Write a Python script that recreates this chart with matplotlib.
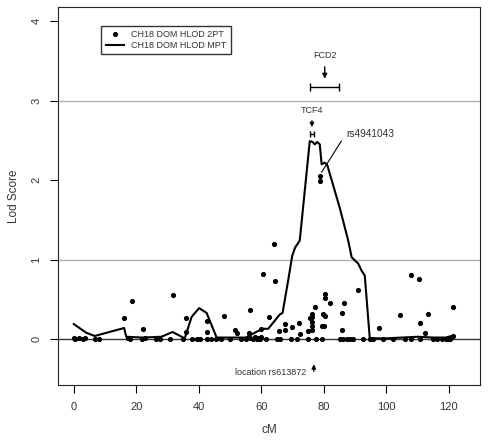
import numpy as np
from matplotlib import pyplot as plt

plt.rcParams["font.family"] = ["Liberation Sans", "DejaVu Sans"]

# multipoint HLOD curve
mpt_cm = [0, 4, 6.7, 16.1, 16.8, 22, 28, 31.6, 35.5, 37.7, 40.1, 42.5, 45.7, 50, 55,
          60.3, 62.2, 65.9, 66.8, 68.6, 69.9, 70.8, 72.3, 75.5, 76.4, 77.1, 77.9,
          78.7, 79.3, 80.3, 81.1, 85.1, 87.8, 88.9, 91.0, 92.1, 93.1, 94.7, 100,
          105, 110, 115, 119, 120.9]
mpt_lod = [0.19, 0.08, 0.04, 0.14, 0.03, 0.02, 0.03, 0.09, 0.01, 0.28, 0.39, 0.33,
           0.02, 0.02, 0.02, 0.13, 0.13, 0.31, 0.33, 0.74, 1.05, 1.15, 1.24, 2.49,
           2.48, 2.45, 2.48, 2.45, 2.2, 2.22, 2.19, 1.65, 1.24, 1.03, 0.95, 0.86,
           0.8, 0.01, 0.01, 0.02, 0.03, 0.02, 0.02, 0.04]

# two-point HLOD, markers above zero
pt_cm = [16.1, 18.5, 22.3, 31.6, 35.8, 35.8, 42.5, 42.5, 48.1, 51.5, 52.1, 56.4,
         56.2, 59.9, 60.4, 62.5, 64.1, 64.3, 65.7, 67.6, 67.6, 69.9, 71.9, 72.5,
         75.0, 75.5, 76.2, 76.3, 76.3, 76.2, 76.3, 77.2, 78.7, 78.7, 79.6, 80.3,
         79.5, 80.1, 80.5, 80.5, 82.1, 85.7, 86.6, 85.8, 91.0, 97.8, 104.3, 108.0,
         110.5, 110.9, 113.2, 112.5, 121.2, 121.2]
pt_lod = [0.26, 0.48, 0.13, 0.56, 0.27, 0.09, 0.23, 0.09, 0.29, 0.11, 0.08, 0.37,
          0.08, 0.13, 0.82, 0.28, 1.2, 0.73, 0.1, 0.19, 0.11, 0.15, 0.2, 0.06,
          0.1, 0.27, 0.31, 0.28, 0.22, 0.17, 0.12, 0.41, 2.05, 1.99, 0.31, 0.29,
          0.17, 0.17, 0.57, 0.52, 0.45, 0.33, 0.46, 0.12, 0.62, 0.14, 0.3, 0.81,
          0.76, 0.2, 0.31, 0.08, 0.41, 0.04]
# two-point markers sitting on zero
zero_cm = [0, 0.3, 1.7, 2.8, 3.5, 6.7, 8.1, 17.4, 18.1, 21.7, 22.7, 26.2, 27.5,
           30.7, 35, 37.7, 39.3, 40.3, 42.5, 44, 45.5, 47, 50, 53.5, 55, 56.5,
           57.5, 58, 58.5, 59, 59.5, 60, 61.5, 65, 66, 69.5, 71.5, 75, 77.5, 79.5,
           85.1, 86.2, 87.3, 88.3, 89.2, 92.6, 94.7, 95.8, 99, 102.2, 105.9, 108,
           110.7, 115, 116.1, 117.7, 119, 119.8, 120.3]
zero_lod = [0.02, 0.0, 0.02, 0.0, 0.01, 0.0, 0.0, 0.02, 0.0, 0.0, 0.01, 0.0, 0.0,
            0.0, 0.0, 0.0, 0.0, 0.0, 0.0, 0.0, 0.0, 0.0, 0.0, 0.0, 0.0, 0.02,
            0.0, 0.03, 0.0, 0.02, 0.0, 0.03, 0.0, 0.0, 0.0, 0.0, 0.0, 0.0, 0.0, 0.0,
            0.0, 0.0, 0.0, 0.0, 0.0, 0.0, 0.0, 0.0, 0.0, 0.0, 0.0, 0.0,
            0.0, 0.0, 0.0, 0.0, 0.0, 0.0, 0.0]

fig = plt.figure(figsize=(4.97, 4.44), dpi=100)
ax = fig.add_axes([0.117, 0.133, 0.849, 0.851])

ax.axhline(1, color="#b0b0b0", lw=1, zorder=0)
ax.axhline(3, color="#b0b0b0", lw=1, zorder=0)
ax.axhline(0, color="#333333", lw=1, zorder=0)

ax.plot(mpt_cm, mpt_lod, color="black", lw=1.5, label="CH18 DOM HLOD MPT")
ax.plot(pt_cm + zero_cm, pt_lod + zero_lod, "o", color="black", ms=2.7,
        label="CH18 DOM HLOD 2PT")

ax.set_xlim(-5, 130)
ax.set_ylim(-0.576, 4.176)
ax.set_xticks([0, 20, 40, 60, 80, 100, 120])
ax.set_yticks([0, 1, 2, 3, 4])
ax.tick_params(length=6, labelsize=8, labelcolor="#333333", pad=6)
ax.tick_params(axis="y", labelrotation=90)
for lab in ax.get_yticklabels():
    lab.set_va("center")
ax.set_xlabel("cM", fontsize=8.5, color="#333333", labelpad=9)
ax.set_ylabel("Lod Score", fontsize=8.5, color="#333333", labelpad=8)
for s in ax.spines.values():
    s.set_color("#222222")

handles, labels = ax.get_legend_handles_labels()
leg = ax.legend(handles[::-1], labels[::-1], loc="upper left",
                bbox_to_anchor=(0.092, 0.963), fontsize=6.5, frameon=True,
                fancybox=False, edgecolor="black", handlelength=2.0,
                borderpad=0.5, labelspacing=0.2, handletextpad=0.8)
leg.get_frame().set_linewidth(1)
for t in leg.get_texts():
    t.set_color("#333333")

ann = dict(fontsize=6.5, color="#333333")
# FCD2 interval
ax.text(80.3, 3.57, "FCD2", ha="center", va="center", **ann)
ax.annotate("", xy=(80.3, 3.24), xytext=(80.3, 3.46),
            arrowprops=dict(arrowstyle="-|>", color="black", lw=1, mutation_scale=7))
ax.errorbar([80.15], [3.175], xerr=[[4.65], [4.65]], color="black", lw=1,
            capsize=3, capthick=1)
# TCF4
ax.text(76.2, 2.87, "TCF4", ha="center", va="center", **ann)
ax.annotate("", xy=(76.2, 2.63), xytext=(76.2, 2.78),
            arrowprops=dict(arrowstyle="-|>", color="black", lw=1, mutation_scale=6))
ax.errorbar([76.2], [2.575], xerr=[[0.6], [0.6]], color="black", lw=1,
            capsize=2, capthick=1)
# rs4941043
ax.text(87.2, 2.58, "rs4941043", ha="left", va="center", fontsize=7.3,
        color="#333333")
ax.plot([85.6, 79.3], [2.49, 2.1], color="black", lw=0.8)
# rs613872
ax.text(74.4, -0.42, "location rs613872", ha="right", va="center", **ann)
ax.annotate("", xy=(76.8, -0.28), xytext=(76.8, -0.44),
            arrowprops=dict(arrowstyle="-|>", color="black", lw=1, mutation_scale=6))

plt.savefig("out.png", dpi=100)
